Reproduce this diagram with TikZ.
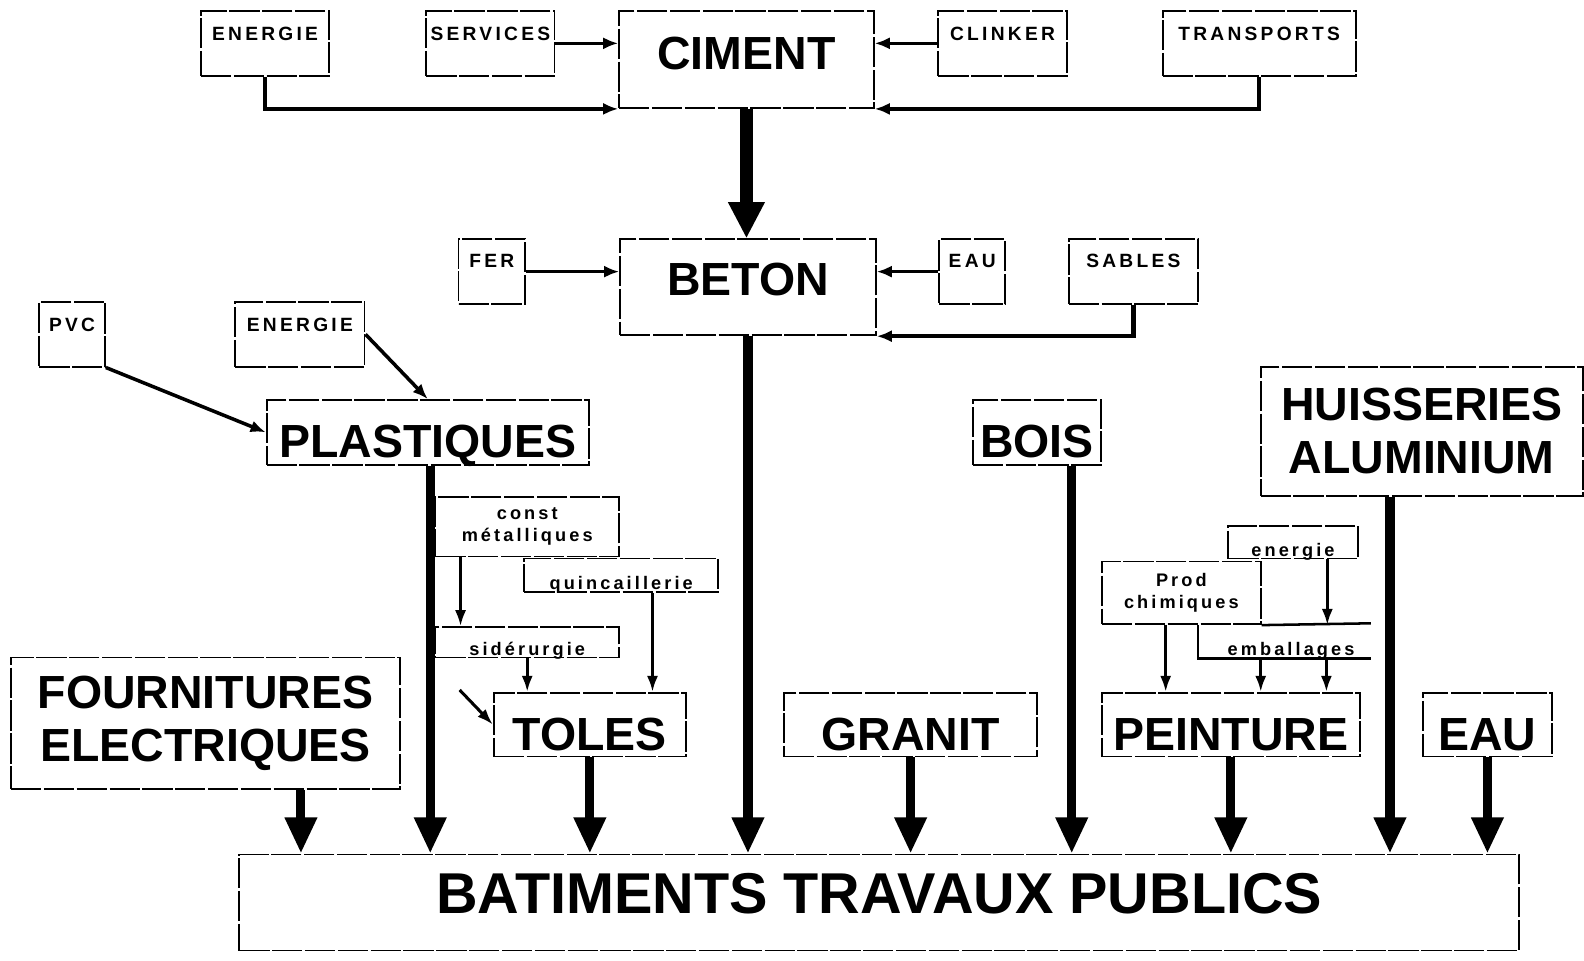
\documentclass[tikz,border=0pt]{standalone}
\usepackage{fontspec}
\setmainfont{Liberation Sans}
\newfontfamily\smf{Liberation Sans}[LetterSpace=17]
\usetikzlibrary{arrows.meta}
\newcommand\boxA[8]{%
  \pgfmathsetmacro\bw{#5-#3}%
  \pgfmathsetmacro\bth{#7-#4}%
  \pgfmathsetmacro\btd{#6-#7}%
  \node[bx,#1,anchor=north west,minimum width=\bw pt,text height=\bth pt,text depth=\btd pt] (#2) at (#3,#4) {#8};}
\newcommand\boxB[7]{%
  \pgfmathsetmacro\bw{#5-#3}%
  \pgfmathsetmacro\bh{#6-#4}%
  \node[bx,#1,anchor=north west,minimum width=\bw pt,minimum height=\bh pt,align=center] (#2) at (#3,#4) {#7};}
\tikzset{
  bx/.style={draw, line width=1.8pt, dash pattern=on 30pt off 2.5pt, inner xsep=0pt, inner ysep=0pt},
  lblsm/.style={font=\smf\bfseries\fontsize{19}{19}\selectfont},
  lbllc/.style={font=\smf\bfseries\fontsize{18}{22}\selectfont},
  lblbig/.style={font=\bfseries\fontsize{46}{52}\selectfont},
  lblbtp/.style={font=\bfseries\fontsize{57}{57}\selectfont},
  arrthin/.style={line width=3.5pt, -{Latex[length=15pt,width=12pt]}},
  arrmed/.style={line width=3pt, -{Latex[length=16pt,width=11pt]}},
  arrbig/.style={line width=9pt, -{Triangle[length=36pt,width=30pt]}},
  plainln/.style={line width=2.5pt}
}
\begin{document}
\begin{tikzpicture}[x=1pt,y=-1pt]
\fill[white] (0,0) rectangle (1568,951);
\useasboundingbox (0,0) rectangle (1568,951);
% top row
\boxA{lblsm}{en1}{198}{10}{325}{74}{39}{ENERGIE}
\boxA{lblsm}{serv}{421}{10}{548}{74}{39}{SERVICES}
\boxA{lblbig}{cim}{612}{10}{864}{106}{68}{CIMENT}
\boxA{lblsm}{clk}{928}{10}{1055}{74}{39}{CLINKER}
\boxA{lblsm}{trans}{1150}{10}{1341}{74}{39}{TRANSPORTS}
% beton row
\boxA{lblsm}{fer}{453}{236}{519}{300}{264}{FER}
\boxA{lblbig}{bet}{613}{236}{866}{331}{292}{BETON}
\boxA{lblsm}{eau1}{929}{236}{994}{300}{264}{EAU}
\boxA{lblsm}{sab}{1057}{236}{1185}{300}{264}{SABLES}
% plastiques row
\boxA{lblsm}{pvc}{38}{298}{103}{362}{327}{PVC}
\boxA{lblsm}{en2}{232}{298}{360}{362}{327}{ENERGIE}
\boxA{lblbig}{plast}{263}{395}{582}{459}{452}{PLASTIQUES}
\boxA{lblbig}{bois}{962}{395}{1089}{459}{452}{BOIS}
\boxB{lblbig}{huis}{1247}{362}{1566}{490}{HUISSERIES\\ALUMINIUM}
% small lowercase boxes
\boxB{lbllc}{cmet}{430}{491}{612}{550}{const\\métalliques}
\boxA{lbllc}{quin}{518}{552}{710}{585}{583}{quincaillerie}
\boxA{lbllc}{sid}{430}{620}{612}{650}{648}{sidérurgie}
\boxA{lbllc}{ener3}{1215}{520}{1343}{552}{550}{energie}
\boxB{lbllc}{prod}{1090}{555}{1247}{617}{Prod\\chimiques}
\node[lbllc, anchor=base, inner sep=0pt] (emb) at (1278,649) {emballages};
% lower row
\boxB{lblbig}{four}{10}{650}{395}{780}{FOURNITURES\\ELECTRIQUES}
\boxA{lblbig}{tol}{488}{685}{678}{748}{742}{TOLES}
\boxA{lblbig}{gra}{775}{685}{1026}{748}{742}{GRANIT}
\boxA{lblbig}{pei}{1090}{685}{1345}{748}{742}{PEINTURE}
\boxA{lblbig}{eau2}{1408}{685}{1535}{748}{742}{EAU}
\boxA{lblbtp}{btp}{236}{845}{1503}{940}{903}{BATIMENTS TRAVAUX PUBLICS}
% coordinates
\coordinate (pend) at (1357,617);
\coordinate (embend) at (1357,652);
\coordinate (e1) at (1248,652);
\coordinate (e2) at (1313,652);
\coordinate (dstart) at (455,683);
% top connectors
\draw[arrthin] (serv.east) -- (serv.east -| cim.west);
\draw[arrthin] (clk.west) -- (clk.west -| cim.east);
\draw[arrthin, line width=4.5pt] (en1.south) |- (cim.south west);
\draw[arrthin, line width=4.5pt] (trans.south) |- (cim.south east);
\draw[line width=12pt, -{Triangle[length=36pt,width=34pt]}] (cim.south) -- (cim.south |- bet.north);
% beton connectors
\draw[arrthin] (fer.east) -- (fer.east -| bet.west);
\draw[arrthin] (eau1.west) -- (eau1.west -| bet.east);
\draw[arrthin, line width=4.5pt] (sab.south) |- (bet.south east);
% plastiques inputs
\draw[arrthin] (pvc.south east) -- (plast.west);
\draw[arrthin] (en2.east) -- (plast.north);
% toles area
\draw[arrmed] ([xshift=-66pt]cmet.south) -- ([xshift=-66pt]cmet.south |- sid.north);
\draw[arrmed] (sid.south) -- (sid.south |- tol.north);
\draw[arrmed] ([xshift=31pt]quin.south) -- ([xshift=31pt]quin.south |- tol.north);
\draw[arrmed] (dstart) -- (tol.west);
% peinture area
\draw[arrmed] ([xshift=34pt]ener3.south) -- ([xshift=34pt]ener3.south |- prod.south);
\draw[plainln] (prod.south east) -- (pend);
\draw[plainln] ([xshift=16.5pt]prod.south) |- (embend);
\draw[arrmed] ([xshift=-15.5pt]prod.south) -- ([xshift=-15.5pt]prod.south |- pei.north);
\draw[arrmed] (e1) -- (e1 |- pei.north);
\draw[arrmed] (e2) -- (e2 |- pei.north);
% arrows into BTP
\draw[arrbig] ([xshift=94.5pt]four.south) -- ([xshift=94.5pt]four.south |- btp.north);
\draw[arrbig] ([xshift=2.5pt]plast.south) -- ([xshift=2.5pt]plast.south |- btp.north);
\draw[arrbig] (tol.south) -- (tol.south |- btp.north);
\draw[arrbig, line width=10pt] (bet.south) -- (bet.south |- btp.north);
\draw[arrbig] (gra.south) -- (gra.south |- btp.north);
\draw[arrbig] ([xshift=34.5pt]bois.south) -- ([xshift=34.5pt]bois.south |- btp.north);
\draw[arrbig] (pei.south) -- (pei.south |- btp.north);
\draw[arrbig] ([xshift=-31.5pt]huis.south) -- ([xshift=-31.5pt]huis.south |- btp.north);
\draw[arrbig] (eau2.south) -- (eau2.south |- btp.north);
\end{tikzpicture}
\end{document}
